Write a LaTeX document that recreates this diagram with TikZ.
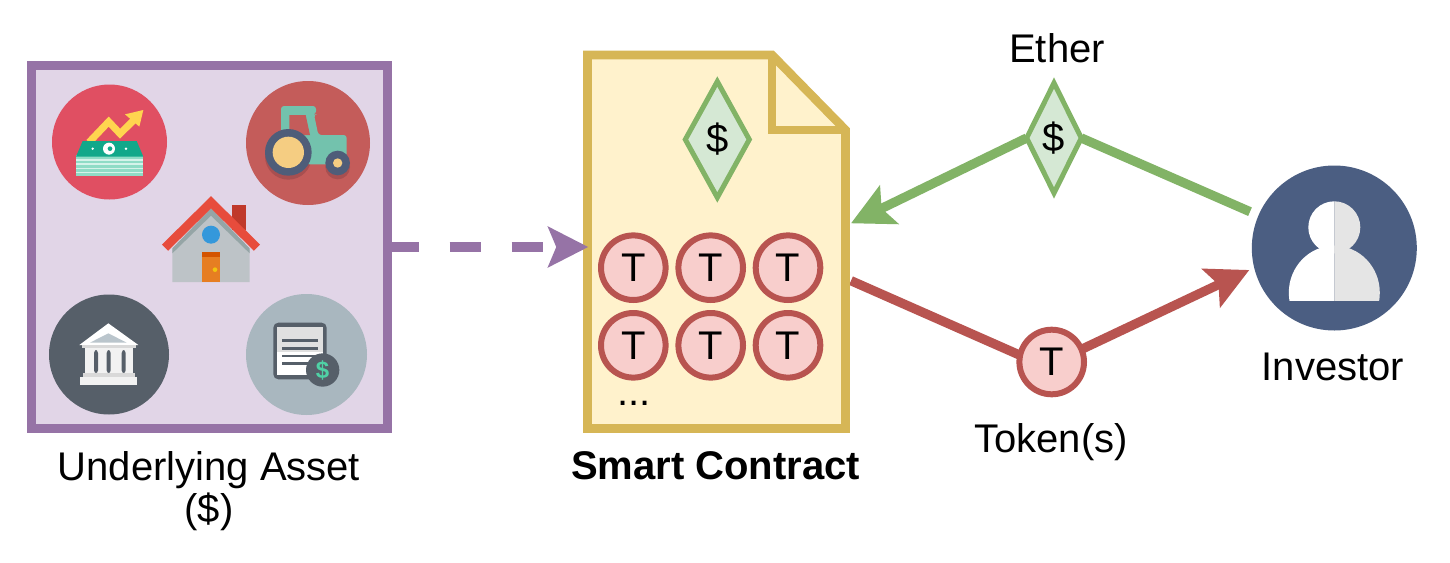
\documentclass[tikz,border=0pt]{standalone}
\usepackage{fontspec}
\setmainfont{Liberation Sans}
\usetikzlibrary{shapes.geometric,arrows.meta,backgrounds}
\definecolor{purpS}{HTML}{9673A6}\definecolor{purpF}{HTML}{E1D5E7}
\definecolor{yelS}{HTML}{D6B656}\definecolor{yelF}{HTML}{FFF2CC}
\definecolor{grnS}{HTML}{82B366}\definecolor{grnF}{HTML}{D5E8D4}
\definecolor{redS}{HTML}{B85450}\definecolor{redF}{HTML}{F8CECC}
\definecolor{icRed}{HTML}{E04F62}\definecolor{icTrac}{HTML}{C45C5A}
\definecolor{icBank}{HTML}{565F69}\definecolor{icDoc}{HTML}{A9B7BF}
\definecolor{icInv}{HTML}{4B5E82}\definecolor{teal}{HTML}{73C2AD}
\definecolor{wheel}{HTML}{4F5D79}\definecolor{sand}{HTML}{F5CD82}
\definecolor{shad}{HTML}{A84F50}
\definecolor{goldA}{HTML}{FFD54F}\definecolor{noteTop}{HTML}{12A88A}
\definecolor{noteA}{HTML}{8FDCC6}\definecolor{noteB}{HTML}{D5F3EA}
\definecolor{roofC}{HTML}{E74C3C}\definecolor{chimC}{HTML}{C0392B}
\definecolor{wallC}{HTML}{BDC3C7}\definecolor{bandC}{HTML}{95A5A6}
\definecolor{doorC}{HTML}{E67E22}\definecolor{doorT}{HTML}{D35400}
\definecolor{knobC}{HTML}{F1C40F}\definecolor{winC}{HTML}{3498DB}
\definecolor{mintC}{HTML}{4FD1A5}
\tikzset{
  lbl/.style={anchor=base,inner sep=0pt,font=\fontsize{40}{48}\selectfont},
  tok/.style={circle,draw=redS,fill=redF,line width=6pt,minimum size=64.6pt,inner sep=0pt,outer sep=0pt,font=\fontsize{40}{48}\selectfont},
  dia/.style={diamond,draw=grnS,fill=grnF,line width=5pt,inner sep=0pt,outer sep=0pt,font=\fontsize{40}{48}\selectfont},
  disc/.style={circle,inner sep=0pt,outer sep=0pt,minimum size=#1},
  zoomed/.style={x=0.33333pt,y=-0.33333pt},
  link/.style={line width=9.3pt},
  headtip/.style={-{Stealth[length=42pt,width=42pt,inset=8pt]}}
}
\begin{document}
\begin{tikzpicture}[x=1pt,y=-1pt]
\useasboundingbox (0,0) rectangle (1450,562);

% asset box
\node[draw=purpS,fill=purpF,line width=8.5pt,minimum width=356pt,minimum height=363pt,inner sep=0pt,outer sep=0pt] (asset) at (209.5,247) {};
\node[disc=115pt,fill=icRed] (money) at (109.5,142) {};
\node[disc=124pt,fill=icTrac] (tractor) at (308,143) {};
\node[disc=120pt,fill=icBank] (bank) at (109,354.5) {};
\node[disc=121pt,fill=icDoc] (invoice) at (306.5,354.5) {};

% money icon
\begin{scope}[shift={(20,55)},zoomed]
  \draw[line width=7pt,color=goldA] (207,262)--(266,200)--(300,236)--(345,192);
  \fill[goldA] (370,165)--(315,178)--(358,215)--cycle;
  \fill[noteA] (168,300) rectangle (370,362);
  \foreach \yy in {312,325,338,350}{\fill[noteB] (168,\yy) rectangle (370,\yy+5);}
  \fill[noteTop] (188,258)--(350,258)--(370,305)--(168,305)--cycle;
  \fill[white] (267,281) circle (18);
  \fill[noteTop] (270,281) circle (7);
  \fill[white] (218,281) circle (4) (318,281) circle (4);
\end{scope}

% tractor icon
\begin{scope}[shift={(20,55)},zoomed]
  \fill[shad] (805,304) circle (70);
  \fill[shad] (953,336) circle (37);
  \fill[teal,rounded corners=3pt] (783,153)--(888,153)--(888,178)--(882,178)--(895,240)--(980,240)--(980,328)--(860,328)--(783,240)--cycle;
  \fill[icTrac] (808,180)--(857,180)--(870,240)--(808,240)--cycle;
  \fill[wheel] (805,292) circle (70);
  \fill[sand] (805,292) circle (47);
  \fill[wheel] (953,324) circle (37);
  \fill[sand] (953,324) circle (14);
\end{scope}

% house icon
\begin{scope}[shift={(150,185)},zoomed]
  \fill[chimC] (247,60) rectangle (287,135);
  \fill[wallC] (67,291)--(299,291)--(299,195)--(183,75)--(67,195)--cycle;
  \fill[bandC] (67,205)--(67,190)--(183,70)--(299,190)--(299,205)--(183,92)--cycle;
  \draw[line width=8.7pt,color=roofC] (45,188)--(183,52)--(321,188);
  \fill[winC] (183,149) circle (27);
  \fill[doorC] (157,201) rectangle (209,291);
  \fill[doorT] (157,201) rectangle (209,215);
  \fill[knobC] (195,254) circle (7);
\end{scope}

% bank icon
\begin{scope}[shift={(20,240)},zoomed]
  \fill[white] (265,250)--(355,315)--(178,315)--cycle;
  \fill[icDoc!80!white] (265,280)--(320,308)--(210,308)--cycle;
  \fill[white!95!black] (195,318) rectangle (340,405);
  \fill[white!85!black] (185,315) rectangle (348,325);
  \foreach \xx in {228,266,311}{\fill[icBank,rounded corners=3pt] (\xx-6,330) rectangle (\xx+6,400);}
  \fill[white!85!black] (190,400) rectangle (345,412);
  \fill[white!95!black] (180,412) rectangle (352,435);
\end{scope}

% invoice icon
\begin{scope}[shift={(20,240)},zoomed]
  \fill[icBank,rounded corners=5pt] (760,248) rectangle (920,418);
  \fill[white!88!black] (772,260) rectangle (908,335);
  \fill[white] (772,335) rectangle (908,406);
  \foreach \yy in {302,325,348,370}{\fill[icBank] (785,\yy-4) rectangle (893,\yy+4);}
  \fill[icBank] (908,390) circle (50);
  \node[inner sep=0pt,text=mintC,font=\bfseries\fontsize{24}{28}\selectfont] (invoicedollar) at (908,390) {\$};
\end{scope}

\node[lbl] (assetlabel) at (209,480) {Underlying Asset};
\node[lbl] (assetlabel2) at (209,522) {(\$)};

% smart contract document
\draw[draw=yelS,fill=yelF,line width=8.7pt,miter limit=4] (587.5,55)--(772,55)--(845.5,130)--(845.5,428.5)--(587.5,428.5)--cycle;
\draw[draw=yelS,line width=8.7pt] (772,55)--(772,130)--(845.5,130);
\node[dia,minimum width=64pt,minimum height=116pt] (dollar) at (717.3,139.5) {\$};
\foreach \nm/\xx/\yy in {t1/633.3/267.7,t2/710.7/267.7,t3/788/267.7,t4/633.3/345.3,t5/710.7/345.3,t6/788/345.3}{
  \node[tok] (\nm) at (\xx,\yy) {T};
}
\node[lbl] (dots) at (634,405) {...};
\node[lbl,font=\bfseries\fontsize{40}{48}\selectfont] (contractlabel) at (715.5,479) {Smart Contract};

% investor
\node[disc=165pt,fill=icInv] (investor) at (1334.3,248) {};
\begin{scope}
  \clip (1250,150) rectangle (1334.3,300);
  \fill[white] (1334.3,292.7) ellipse [x radius=45.5, y radius=47];
  \fill[white] (1334.3,227.3) circle (26);
\end{scope}
\begin{scope}
  \clip (1334.3,150) rectangle (1420,300);
  \fill[white!90!black] (1334.3,292.7) ellipse [x radius=45.5, y radius=47];
  \fill[white!90!black] (1334.3,227.3) circle (26);
\end{scope}
\node[lbl] (investorlabel) at (1333,380) {Investor};

% ether and token
\node[dia,minimum width=54pt,minimum height=110pt] (ether) at (1054,138) {\$};
\node[lbl] (etherlabel) at (1057,62) {Ether};
\node[tok] (token) at (1051.7,362) {T};
\node[lbl] (tokenlabel) at (1051,452) {Token(s)};

\coordinate (greentail) at (1250,211.7);
\coordinate (greentip) at (851,223.3);
\coordinate (redstart) at (851,280.7);
\coordinate (redtip) at (1249.3,270);
\coordinate (purptip) at (588.3,247);

\begin{pgfonlayer}{background}
  \fill[white] (0,0) rectangle (1450,562);
  \draw[link,draw=grnS] (greentail) -- (ether.east);
  \draw[link,draw=grnS,headtip,fill=grnS] (ether.west) -- (greentip);
  \draw[link,draw=redS] (redstart) -- (token.168);
  \draw[link,draw=redS,headtip,fill=redS] (token.23) -- (redtip);
\end{pgfonlayer}
\draw[draw=purpS,line width=10.5pt,dash pattern=on 31pt off 31pt,-{Stealth[length=40pt,width=40pt,inset=8pt]}] (asset.east) -- (purptip);
\end{tikzpicture}
\end{document}
